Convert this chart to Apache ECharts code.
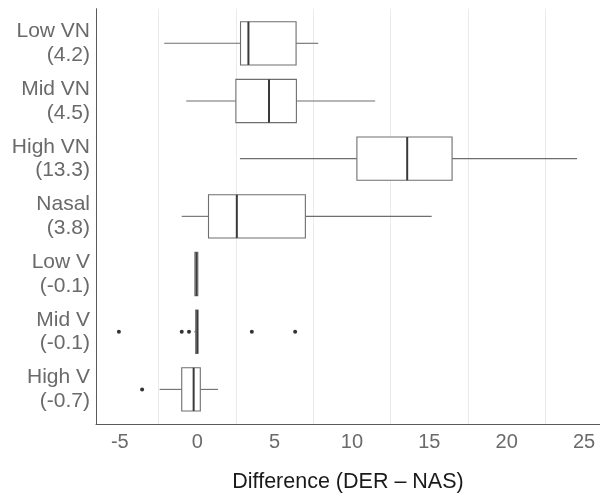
<!DOCTYPE html>
<html>
<head>
<meta charset="utf-8">
<script src="https://cdn.jsdelivr.net/npm/echarts@6/dist/echarts.min.js"></script>
<style>
html,body{margin:0;padding:0;background:#fff;}
#chart{width:600px;height:498px;}
</style>
</head>
<body>
<div id="chart"></div>
<script>
// ---- data ----
const groupNames = ['Low VN', 'Mid VN', 'High VN', 'Nasal', 'Low V', 'Mid V', 'High V'];
const groupMeans = ['4.2', '4.5', '13.3', '3.8', '-0.1', '-0.1', '-0.7'];
const whiskerLow  = [-2.13, -0.71,  2.76, -1.00, -0.15, -0.20, -2.43];
const quartile1   = [ 2.80,  2.50, 10.32,  0.73, -0.15, -0.10, -1.00];
const medians     = [ 3.31,  4.64, 13.57,  2.56, -0.05,  0.00, -0.23];
const quartile3   = [ 6.39,  6.41, 16.47,  6.99,  0.04,  0.05,  0.20];
const whiskerHigh = [ 7.82, 11.50, 24.55, 15.15,  0.04,  0.05,  1.35];
const outlierGroup = [5, 5, 5, 5, 5, 6];
const outlierValue = [-5.06, -1.00, -0.53, 3.53, 6.33, -3.56];
const xTickLabels = [-5, 0, 5, 10, 15, 20, 25];
const xGridValues = [-2.5, 2.5, 7.5, 12.5, 17.5, 22.5];
const xTitle = 'Difference (DER \u2013 NAS)';

const boxData = groupNames.map((n, i) => [i, whiskerLow[i], quartile1[i], medians[i], quartile3[i], whiskerHigh[i]]);
const outlierData = outlierValue.map((v, i) => [v, outlierGroup[i]]);

const FONT = '"Liberation Sans", Arial, sans-serif';
const BOX_STROKE = '#6e6e6e';

function renderBox(params, api) {
  const y = api.value(0);
  const lo = api.coord([api.value(1), y]);
  const b1 = api.coord([api.value(2), y]);
  const md = api.coord([api.value(3), y]);
  const b3 = api.coord([api.value(4), y]);
  const hi = api.coord([api.value(5), y]);
  const h = Math.abs(api.size([0, 0.75])[1]);
  const cy = lo[1];
  const lineStyle = { stroke: BOX_STROKE, lineWidth: 1.1, fill: null };
  return {
    type: 'group',
    children: [
      { type: 'line', shape: { x1: lo[0], y1: cy, x2: b1[0], y2: cy }, style: lineStyle },
      { type: 'line', shape: { x1: b3[0], y1: cy, x2: hi[0], y2: cy }, style: lineStyle },
      { type: 'rect', shape: { x: b1[0], y: cy - h / 2, width: b3[0] - b1[0], height: h },
        style: { fill: '#ffffff', stroke: BOX_STROKE, lineWidth: 1.1 } },
      { type: 'line', shape: { x1: md[0], y1: cy - h / 2, x2: md[0], y2: cy + h / 2 },
        style: { stroke: '#3a3a3a', lineWidth: 2 } }
    ]
  };
}

const chart = echarts.init(document.getElementById('chart'), null, { renderer: 'canvas' });
chart.setOption({
  animation: false,
  backgroundColor: '#ffffff',
  grid: { left: 96, right: -4.4, top: 8.7, bottom: 69.7, containLabel: false },
  xAxis: {
    type: 'value',
    min: -6.54,
    max: 26.03,
    name: xTitle,
    nameLocation: 'middle',
    nameGap: 47,
    nameTextStyle: { fontFamily: FONT, fontSize: 21.5, color: '#1a1a1a' },
    axisLine: { show: true, onZero: false, lineStyle: { color: '#5a5a5a', width: 1 } },
    axisTick: { show: false, customValues: xGridValues },
    axisLabel: {
      customValues: xTickLabels,
      fontFamily: FONT, fontSize: 20, color: '#6a6a6a', margin: 8,
      formatter: v => String(v)
    },
    splitLine: { show: true, customValues: xGridValues, lineStyle: { color: '#ebebeb', width: 1 } }
  },
  yAxis: {
    type: 'value',
    inverse: true,
    min: -0.6,
    max: 6.6,
    axisLine: { show: true, onZero: false, lineStyle: { color: '#5a5a5a', width: 1 } },
    axisTick: { show: false },
    splitLine: { show: false },
    axisLabel: {
      customValues: groupNames.map((n, i) => i),
      fontFamily: FONT, fontSize: 21, color: '#6a6a6a', margin: 6,
      align: 'right', lineHeight: 23.5,
      formatter: v => {
        const i = Math.round(v);
        return groupNames[i] + '\n(' + groupMeans[i] + ')';
      }
    }
  },
  series: [
    {
      type: 'custom',
      renderItem: renderBox,
      encode: { x: [1, 2, 3, 4, 5], y: 0 },
      data: boxData,
      clip: false,
      z: 2
    },
    {
      type: 'scatter',
      data: outlierData,
      symbol: 'circle',
      symbolSize: 4,
      itemStyle: { color: '#000000' },
      z: 3
    }
  ]
});
</script>
</body>
</html>
